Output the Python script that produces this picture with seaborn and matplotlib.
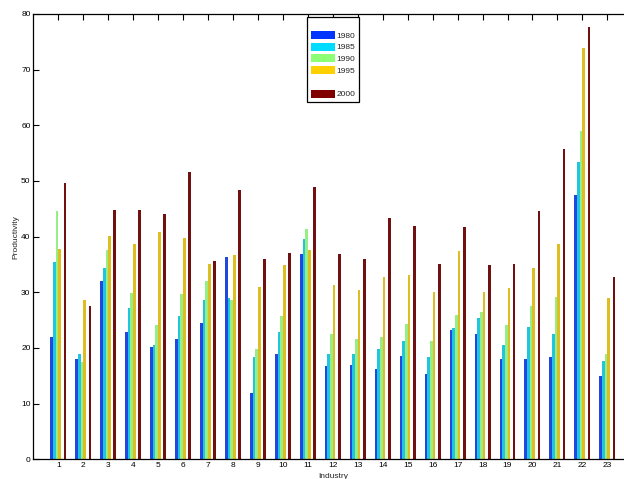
import pandas as pd
import numpy as np
import matplotlib
matplotlib.use('Agg')
import matplotlib.pyplot as plt
from matplotlib.patches import Patch
import seaborn as sns

industries = [str(i) for i in range(1, 24)]
years = ['1980', '1985', '1990', '1995', ' ', '2000']

p1980 = [22.0, 18.0, 32.0, 22.8, 20.1, 21.7, 24.4, 36.4, 12.0, 19.0, 36.9, 16.8,
         16.9, 16.3, 18.6, 15.4, 23.2, 22.5, 18.0, 18.0, 18.3, 47.5, 15.0]
p1985 = [35.4, 19.0, 34.4, 27.1, 20.5, 25.7, 28.7, 28.9, 18.3, 22.9, 39.5, 18.9,
         19.0, 19.9, 21.3, 18.4, 23.5, 25.4, 20.5, 23.7, 22.6, 53.4, 17.7]
p1990 = [44.6, 17.5, 37.6, 29.9, 24.1, 29.7, 32.1, 28.6, 19.8, 25.8, 41.3, 22.5,
         21.6, 22.0, 24.3, 21.3, 25.9, 26.5, 24.1, 27.5, 29.2, 58.9, 18.9]
p1995 = [37.8, 28.6, 40.2, 38.7, 40.9, 39.8, 35.1, 36.7, 30.9, 34.9, 37.6, 31.4,
         30.5, 32.8, 33.1, 30.0, 37.4, 30.0, 30.8, 34.3, 38.7, 73.9, 28.9]
blank = [0.0] * 23
p2000 = [49.7, 27.5, 44.8, 44.7, 44.1, 51.7, 35.6, 48.4, 36.0, 37.0, 49.0, 36.9,
         36.0, 43.4, 42.0, 35.0, 41.7, 34.9, 35.1, 44.6, 55.7, 77.6, 32.7]

colors = ['#0034ff', '#00dcff', '#8cff74', '#ffd000', '#ff2000', '#800000']

series = [p1980, p1985, p1990, p1995, blank, p2000]
df = pd.concat([pd.DataFrame({'industry': industries, 'year': y, 'value': v})
                for y, v in zip(years, series)], ignore_index=True)

sns.set_style('white')
plt.rcParams['font.family'] = ['Liberation Sans', 'DejaVu Sans']

fig = plt.figure(figsize=(6.24, 4.79), dpi=100)
ax = fig.add_axes([33.3 / 624, 1 - 459.3 / 479, 599 / 624, 445.3 / 479])

sns.barplot(data=df, x='industry', y='value', hue='year', hue_order=years,
            palette=colors, width=0.64, dodge=True, linewidth=0,
            legend=False, ax=ax)

# zero series shows as a thin red mark on the baseline
for bar in ax.containers[4]:
    bar.set_edgecolor('#ff2000')
    bar.set_linewidth(0.8)

ax.set_xlim(-1, 23)
ax.set_ylim(0, 80)
ax.set_yticks(range(0, 81, 10))
ax.tick_params(direction='in', length=4, width=0.8, labelsize=6, top=True,
               right=True, bottom=True, left=True, pad=2, colors='black')
for s in ax.spines.values():
    s.set_visible(True)
    s.set_color('black')
    s.set_linewidth(0.9)
ax.set_xlabel('Industry', fontsize=6, labelpad=3)
ax.set_ylabel('Productivity', fontsize=6, labelpad=1)

handles = [Patch(facecolor=c, edgecolor='none') for c in colors]
handles[4] = Patch(facecolor='none', edgecolor='none')
labels = ['1980', '1985', '1990', '1995', '', '2000']
leg = ax.legend(handles, labels, loc='upper left', bbox_to_anchor=(0.457, 0.993),
                fontsize=6, title=' ', title_fontsize=6, fancybox=False,
                framealpha=1, edgecolor='black', handlelength=2.9,
                handleheight=1.1, labelspacing=0.35, handletextpad=0.2,
                borderpad=0.45, borderaxespad=0)
leg.get_frame().set_linewidth(0.9)

fig.savefig('out.png', dpi=100, facecolor='white')
